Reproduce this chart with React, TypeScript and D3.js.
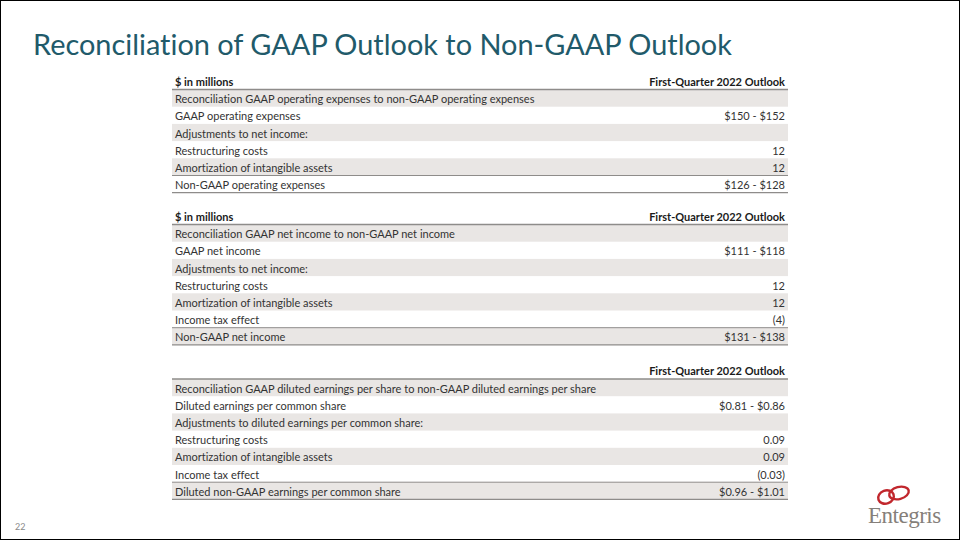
import React from "react";
import * as d3 from "d3";

const title = "Reconciliation of GAAP Outlook to Non-GAAP Outlook";
const columnHeader = "First-Quarter 2022 Outlook";

const table1Header = "$ in millions";
const table1Labels = [
  "Reconciliation GAAP operating expenses to non-GAAP operating expenses",
  "GAAP operating expenses",
  "Adjustments to net income:",
  "Restructuring costs",
  "Amortization of intangible assets",
  "Non-GAAP operating expenses",
];
const table1Values = ["", "$150 - $152", "", "12", "12", "$126 - $128"];

const table2Header = "$ in millions";
const table2Labels = [
  "Reconciliation GAAP net income to non-GAAP net income",
  "GAAP net income",
  "Adjustments to net income:",
  "Restructuring costs",
  "Amortization of intangible assets",
  "Income tax effect",
  "Non-GAAP net income",
];
const table2Values = ["", "$111 - $118", "", "12", "12", "(4)", "$131 - $138"];

const table3Header = "";
const table3Labels = [
  "Reconciliation GAAP diluted earnings per share to non-GAAP diluted earnings per share",
  "Diluted earnings per common share",
  "Adjustments to diluted earnings per common share:",
  "Restructuring costs",
  "Amortization of intangible assets",
  "Income tax effect",
  "Diluted non-GAAP earnings per common share",
];
const table3Values = ["", "$0.81 - $0.86", "", "0.09", "0.09", "(0.03)", "$0.96 - $1.01"];

const pageNumber = "22";

const W = 960;
const H = 540;
const LEFT = 172;
const RIGHT = 788;
const ROW_H = 17.2;
const FONT = "Lato, 'Open Sans', sans-serif";
const SHADE = "#E9E6E4";
const RULE = "#8E8C8A";
const TEXT = "#333333";

type TableDef = { header: string; labels: string[]; values: string[]; top: number };

const tables: TableDef[] = [
  { header: table1Header, labels: table1Labels, values: table1Values, top: 89.5 },
  { header: table2Header, labels: table2Labels, values: table2Values, top: 224.5 },
  { header: table3Header, labels: table3Labels, values: table3Values, top: 379 },
];

const noLig = { fontVariantLigatures: "none" as const };

function Table({ t }: { t: TableDef }) {
  const idx = t.labels.map((_, i) => i);
  const y = d3
    .scaleBand<number>()
    .domain(idx)
    .range([t.top, t.top + idx.length * ROW_H])
    .padding(0);
  const last = idx.length - 1;
  return (
    <g style={noLig}>
      {idx.map((i) =>
        i % 2 === 0 ? (
          <rect key={"s" + i} x={LEFT} y={y(i)!} width={RIGHT - LEFT} height={y.bandwidth()} fill={SHADE} />
        ) : null
      )}
      <text x={LEFT + 3} y={t.top - 4} fontFamily={FONT} fontSize={11} fontWeight={700} fill="#1a1a1a">
        {t.header}
      </text>
      <text x={RIGHT - 3} y={t.top - 4} textAnchor="end" fontFamily={FONT} fontSize={11} fontWeight={700} fill="#1a1a1a">
        {columnHeader}
      </text>
      {idx.map((i) => (
        <g key={"r" + i}>
          <text x={LEFT + 3} y={y(i)! + y.bandwidth() / 2 + 5} fontFamily={FONT} fontSize={11} fill={TEXT}>
            {t.labels[i]}
          </text>
          <text x={RIGHT - 3} y={y(i)! + y.bandwidth() / 2 + 5} textAnchor="end" fontFamily={FONT} fontSize={11} fill={TEXT}>
            {t.values[i]}
          </text>
        </g>
      ))}
      <line x1={LEFT} x2={RIGHT} y1={t.top} y2={t.top} stroke={RULE} strokeWidth={1.5} />
      <line x1={LEFT} x2={RIGHT} y1={y(last)!} y2={y(last)!} stroke={RULE} strokeWidth={1} />
      <line x1={LEFT} x2={RIGHT} y1={y(last)! + y.bandwidth()} y2={y(last)! + y.bandwidth()} stroke={RULE} strokeWidth={1.2} />
    </g>
  );
}

export default function App() {
  return (
    <svg
      width={W}
      height={H}
      viewBox={`0 0 ${W} ${H}`}
      style={{ position: "fixed", left: 0, top: 0, background: "#fff" }}
    >
      <rect x={0.5} y={0.5} width={W - 1} height={H - 1} fill="#fff" stroke="#000" strokeWidth={1} />
      <text x={33} y={55} fontFamily={FONT} fontSize={28.9} fill="#215A6A" style={noLig}>
        {title}
      </text>
      {tables.map((t, k) => (
        <Table key={k} t={t} />
      ))}
      <text x={15} y={530} fontFamily={FONT} fontSize={9} fill="#8a8a8a">
        {pageNumber}
      </text>
      <g>
        <ellipse cx={886} cy={497} rx={8} ry={6.5} fill="none" stroke="#C1272D" strokeWidth={2.4} transform="rotate(-20 886 497)" />
        <ellipse cx={899} cy={493} rx={10} ry={6} fill="none" stroke="#C1272D" strokeWidth={2.4} transform="rotate(-15 899 493)" />
        <text x={868} y={523} fontFamily="'Liberation Serif', 'DejaVu Serif', serif" fontSize={23} fill="#857F7A" letterSpacing={-0.5}>
          Entegris
        </text>
      </g>
    </svg>
  );
}
